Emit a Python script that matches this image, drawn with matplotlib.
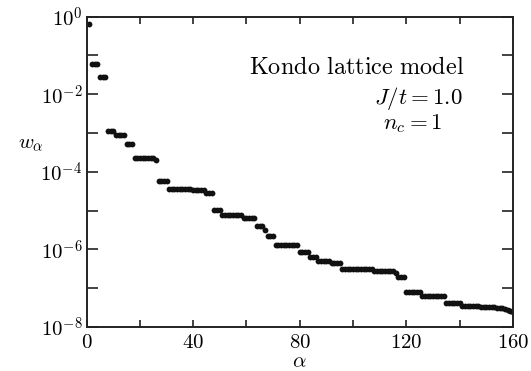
import numpy as np
import matplotlib
matplotlib.use('Agg')
import matplotlib.pyplot as plt

# runs of (count, log10 w), alpha = 1..160
run_counts = [1, 3, 3, 3, 4, 3, 8, 1, 4, 9, 5, 3, 3, 8, 5, 3, 1, 3, 9, 4, 3, 5, 4,
              12, 8, 1, 3, 6, 9, 6]
run_logw = [-0.19, -1.22, -1.56, -2.95, -3.06, -3.29, -3.64, -3.70, -4.23, -4.45,
            -4.48, -4.54, -4.99, -5.11, -5.19, -5.39, -5.49, -5.65, -5.89, -6.07,
            -6.19, -6.29, -6.36, -6.50, -6.55, -6.62, -6.70, -7.10, -7.19, -7.39]
# slow tail alpha = 141..160
tail_logw = [-7.45, -7.45, -7.46, -7.46, -7.47, -7.47, -7.47, -7.48, -7.48, -7.48,
             -7.49, -7.49, -7.49, -7.50, -7.50, -7.51, -7.53, -7.55, -7.58, -7.62]

logw = []
for n, v in zip(run_counts, run_logw):
    logw += [v] * n
logw += tail_logw
w = 10.0 ** np.array(logw)
alpha = np.arange(1, len(w) + 1)

plt.rcParams['mathtext.fontset'] = 'cm'
plt.rcParams['font.family'] = 'serif'
plt.rcParams['font.serif'] = ['DejaVu Serif']

fig = plt.figure(figsize=(5.31, 3.71), dpi=100)
ax = fig.add_axes([0.163, 0.1186, 0.803, 0.8364])

ax.plot(alpha, w, 'o', color='#111111', markersize=4.2, markeredgewidth=0)

ax.set_yscale('log')
ax.set_xlim(0, 160)
ax.set_ylim(1e-8, 1)

ax.set_xticks(np.arange(0, 161, 20))
ax.set_xticklabels(['$%d$' % v if v % 40 == 0 else '' for v in range(0, 161, 20)])
ax.set_yticks([10.0 ** k for k in range(-8, 1)])
ax.set_yticklabels(['$10^{%d}$' % k if k % 2 == 0 else '' for k in range(-8, 1)])
ax.minorticks_off()
ax.tick_params(axis='both', direction='in', top=True, right=True, labelsize=15,
               width=1.2, color='#222222')
ax.tick_params(axis='x', length=5, pad=4)
ax.tick_params(axis='y', length=8, pad=3)
for s in ax.spines.values():
    s.set_linewidth(1.4)
    s.set_color('#222222')

ax.set_xlabel(r'$\alpha$', fontsize=15)
ax.xaxis.set_label_coords(0.5, -0.08)
ax.set_ylabel(r'$w_\alpha$', fontsize=15, rotation=0)
ax.yaxis.set_label_coords(-0.13, 0.56)

ax.text(0.887, 0.835, r'$\mathrm{Kondo\ lattice\ model}$', transform=ax.transAxes,
        ha='right', va='center', fontsize=17.5)
ax.text(0.883, 0.735, r'$J/t = 1.0$', transform=ax.transAxes,
        ha='right', va='center', fontsize=16.5)
ax.text(0.834, 0.655, r'$n_c = 1$', transform=ax.transAxes,
        ha='right', va='center', fontsize=16.5)

fig.savefig('out.png', dpi=100)
